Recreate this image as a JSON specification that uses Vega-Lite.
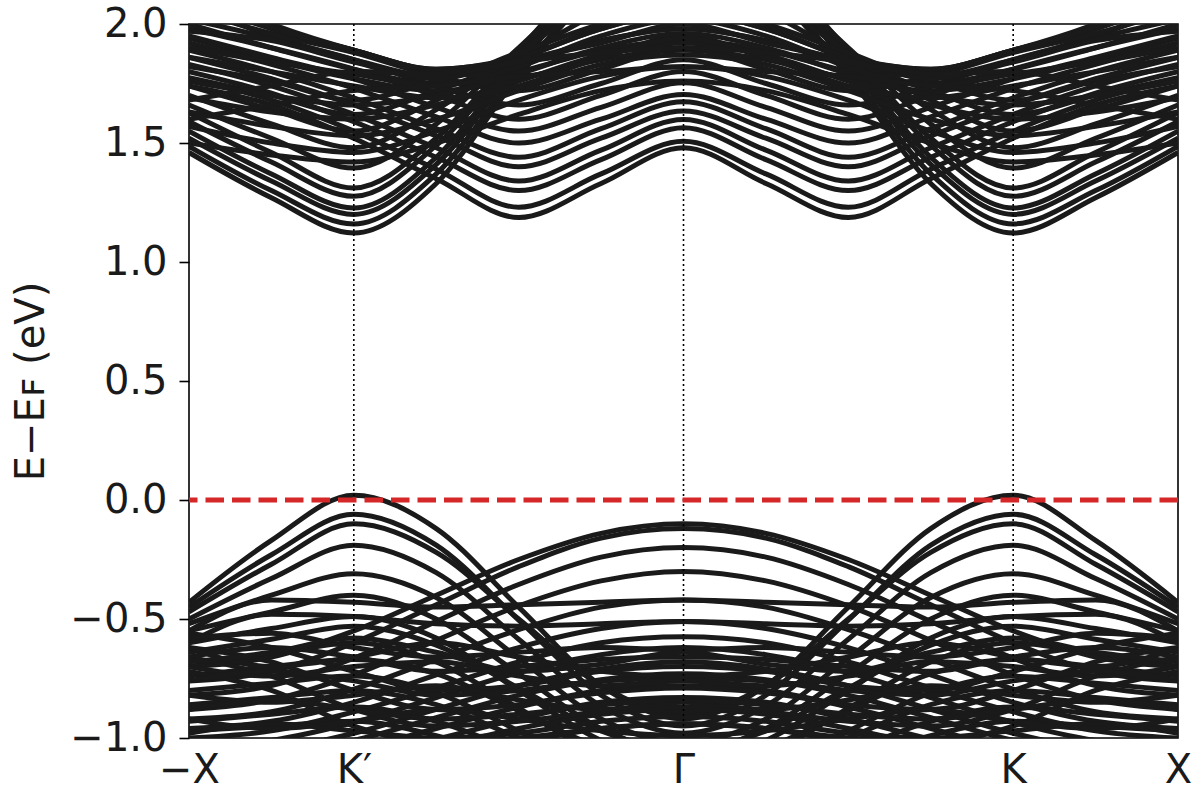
{
"$schema": "https://vega.github.io/schema/vega-lite/v6.json",
"autosize": {"type": "none"},
"padding": {"left": 189, "top": 24, "right": 22, "bottom": 62},
"width": 989,
"height": 714,
"background": "white",
"config": {"view": {"stroke": "#000000", "strokeWidth": 1.6}, "font": "DejaVu Sans"},
"datasets": {
"bands": [
{"b":1,"x":-1,"e":1.46},{"b":1,"x":-0.8333,"e":1.27},{"b":1,"x":-0.6667,"e":1.122},{"b":1,"x":-0.5,"e":1.33},{"b":1,"x":-0.3333,"e":1.78},{"b":1,"x":-0.1667,"e":2.15},{"b":1,"x":0,"e":2.3},{"b":1,"x":0.1667,"e":2.15},{"b":1,"x":0.3333,"e":1.78},{"b":1,"x":0.5,"e":1.33},{"b":1,"x":0.6667,"e":1.122},{"b":1,"x":0.8333,"e":1.27},{"b":1,"x":1,"e":1.46},
{"b":2,"x":-1,"e":1.486},{"b":2,"x":-0.8333,"e":1.3},{"b":2,"x":-0.6667,"e":1.16},{"b":2,"x":-0.5,"e":1.37},{"b":2,"x":-0.3333,"e":1.8},{"b":2,"x":-0.1667,"e":2.15},{"b":2,"x":0,"e":2.3},{"b":2,"x":0.1667,"e":2.15},{"b":2,"x":0.3333,"e":1.8},{"b":2,"x":0.5,"e":1.37},{"b":2,"x":0.6667,"e":1.16},{"b":2,"x":0.8333,"e":1.3},{"b":2,"x":1,"e":1.486},
{"b":3,"x":-1,"e":1.52},{"b":3,"x":-0.8333,"e":1.34},{"b":3,"x":-0.6667,"e":1.2},{"b":3,"x":-0.5,"e":1.41},{"b":3,"x":-0.3333,"e":1.83},{"b":3,"x":-0.1667,"e":2.2},{"b":3,"x":0,"e":2.35},{"b":3,"x":0.1667,"e":2.2},{"b":3,"x":0.3333,"e":1.83},{"b":3,"x":0.5,"e":1.41},{"b":3,"x":0.6667,"e":1.2},{"b":3,"x":0.8333,"e":1.34},{"b":3,"x":1,"e":1.52},
{"b":4,"x":-1,"e":1.55},{"b":4,"x":-0.8333,"e":1.37},{"b":4,"x":-0.6667,"e":1.227},{"b":4,"x":-0.5,"e":1.44},{"b":4,"x":-0.3333,"e":1.85},{"b":4,"x":-0.1667,"e":2.2},{"b":4,"x":0,"e":2.35},{"b":4,"x":0.1667,"e":2.2},{"b":4,"x":0.3333,"e":1.85},{"b":4,"x":0.5,"e":1.44},{"b":4,"x":0.6667,"e":1.227},{"b":4,"x":0.8333,"e":1.37},{"b":4,"x":1,"e":1.55},
{"b":5,"x":-1,"e":1.59},{"b":5,"x":-0.8333,"e":1.42},{"b":5,"x":-0.6667,"e":1.276},{"b":5,"x":-0.5,"e":1.49},{"b":5,"x":-0.3333,"e":1.87},{"b":5,"x":-0.1667,"e":2.25},{"b":5,"x":0,"e":2.4},{"b":5,"x":0.1667,"e":2.25},{"b":5,"x":0.3333,"e":1.87},{"b":5,"x":0.5,"e":1.49},{"b":5,"x":0.6667,"e":1.276},{"b":5,"x":0.8333,"e":1.42},{"b":5,"x":1,"e":1.59},
{"b":6,"x":-1,"e":1.627},{"b":6,"x":-0.8333,"e":1.46},{"b":6,"x":-0.6667,"e":1.311},{"b":6,"x":-0.5,"e":1.52},{"b":6,"x":-0.3333,"e":1.89},{"b":6,"x":-0.1667,"e":2.25},{"b":6,"x":0,"e":2.4},{"b":6,"x":0.1667,"e":2.25},{"b":6,"x":0.3333,"e":1.89},{"b":6,"x":0.5,"e":1.52},{"b":6,"x":0.6667,"e":1.311},{"b":6,"x":0.8333,"e":1.46},{"b":6,"x":1,"e":1.627},
{"b":7,"x":-1,"e":1.66},{"b":7,"x":-0.8333,"e":1.52},{"b":7,"x":-0.6667,"e":1.395},{"b":7,"x":-0.5,"e":1.58},{"b":7,"x":-0.3333,"e":1.9},{"b":7,"x":-0.1667,"e":2.2},{"b":7,"x":0,"e":2.3},{"b":7,"x":0.1667,"e":2.2},{"b":7,"x":0.3333,"e":1.9},{"b":7,"x":0.5,"e":1.58},{"b":7,"x":0.6667,"e":1.395},{"b":7,"x":0.8333,"e":1.52},{"b":7,"x":1,"e":1.66},
{"b":8,"x":-1,"e":1.7},{"b":8,"x":-0.8333,"e":1.58},{"b":8,"x":-0.6667,"e":1.48},{"b":8,"x":-0.5,"e":1.64},{"b":8,"x":-0.3333,"e":1.88},{"b":8,"x":-0.1667,"e":2.1},{"b":8,"x":0,"e":2.2},{"b":8,"x":0.1667,"e":2.1},{"b":8,"x":0.3333,"e":1.88},{"b":8,"x":0.5,"e":1.64},{"b":8,"x":0.6667,"e":1.48},{"b":8,"x":0.8333,"e":1.58},{"b":8,"x":1,"e":1.7},
{"b":9,"x":-1,"e":1.74},{"b":9,"x":-0.8333,"e":1.64},{"b":9,"x":-0.6667,"e":1.55},{"b":9,"x":-0.5,"e":1.68},{"b":9,"x":-0.3333,"e":1.86},{"b":9,"x":-0.1667,"e":2.05},{"b":9,"x":0,"e":2.15},{"b":9,"x":0.1667,"e":2.05},{"b":9,"x":0.3333,"e":1.86},{"b":9,"x":0.5,"e":1.68},{"b":9,"x":0.6667,"e":1.55},{"b":9,"x":0.8333,"e":1.64},{"b":9,"x":1,"e":1.74},
{"b":10,"x":-1,"e":1.774},{"b":10,"x":-0.8333,"e":1.7},{"b":10,"x":-0.6667,"e":1.62},{"b":10,"x":-0.5,"e":1.72},{"b":10,"x":-0.3333,"e":1.85},{"b":10,"x":-0.1667,"e":1.98},{"b":10,"x":0,"e":2.05},{"b":10,"x":0.1667,"e":1.98},{"b":10,"x":0.3333,"e":1.85},{"b":10,"x":0.5,"e":1.72},{"b":10,"x":0.6667,"e":1.62},{"b":10,"x":0.8333,"e":1.7},{"b":10,"x":1,"e":1.774},
{"b":11,"x":-1,"e":1.82},{"b":11,"x":-0.8333,"e":1.76},{"b":11,"x":-0.6667,"e":1.68},{"b":11,"x":-0.5,"e":1.76},{"b":11,"x":-0.3333,"e":1.84},{"b":11,"x":-0.1667,"e":1.93},{"b":11,"x":0,"e":1.98},{"b":11,"x":0.1667,"e":1.93},{"b":11,"x":0.3333,"e":1.84},{"b":11,"x":0.5,"e":1.76},{"b":11,"x":0.6667,"e":1.68},{"b":11,"x":0.8333,"e":1.76},{"b":11,"x":1,"e":1.82},
{"b":12,"x":-1,"e":2.15},{"b":12,"x":-0.8333,"e":2},{"b":12,"x":-0.6667,"e":1.89},{"b":12,"x":-0.5,"e":1.81},{"b":12,"x":-0.3333,"e":1.86},{"b":12,"x":-0.1667,"e":1.98},{"b":12,"x":0,"e":2.05},{"b":12,"x":0.1667,"e":1.98},{"b":12,"x":0.3333,"e":1.86},{"b":12,"x":0.5,"e":1.81},{"b":12,"x":0.6667,"e":1.89},{"b":12,"x":0.8333,"e":2},{"b":12,"x":1,"e":2.15},
{"b":13,"x":-1,"e":2.08},{"b":13,"x":-0.8333,"e":1.95},{"b":13,"x":-0.6667,"e":1.85},{"b":13,"x":-0.5,"e":1.78},{"b":13,"x":-0.3333,"e":1.83},{"b":13,"x":-0.1667,"e":1.93},{"b":13,"x":0,"e":1.98},{"b":13,"x":0.1667,"e":1.93},{"b":13,"x":0.3333,"e":1.83},{"b":13,"x":0.5,"e":1.78},{"b":13,"x":0.6667,"e":1.85},{"b":13,"x":0.8333,"e":1.95},{"b":13,"x":1,"e":2.08},
{"b":14,"x":-1,"e":2},{"b":14,"x":-0.8333,"e":1.9},{"b":14,"x":-0.6667,"e":1.81},{"b":14,"x":-0.5,"e":1.75},{"b":14,"x":-0.3333,"e":1.8},{"b":14,"x":-0.1667,"e":1.89},{"b":14,"x":0,"e":1.93},{"b":14,"x":0.1667,"e":1.89},{"b":14,"x":0.3333,"e":1.8},{"b":14,"x":0.5,"e":1.75},{"b":14,"x":0.6667,"e":1.81},{"b":14,"x":0.8333,"e":1.9},{"b":14,"x":1,"e":2},
{"b":15,"x":-1,"e":1.94},{"b":15,"x":-0.8333,"e":1.85},{"b":15,"x":-0.6667,"e":1.77},{"b":15,"x":-0.5,"e":1.72},{"b":15,"x":-0.3333,"e":1.77},{"b":15,"x":-0.1667,"e":1.85},{"b":15,"x":0,"e":1.89},{"b":15,"x":0.1667,"e":1.85},{"b":15,"x":0.3333,"e":1.77},{"b":15,"x":0.5,"e":1.72},{"b":15,"x":0.6667,"e":1.77},{"b":15,"x":0.8333,"e":1.85},{"b":15,"x":1,"e":1.94},
{"b":16,"x":-1,"e":1.74},{"b":16,"x":-0.8333,"e":1.66},{"b":16,"x":-0.6667,"e":1.52},{"b":16,"x":-0.5,"e":1.35},{"b":16,"x":-0.3333,"e":1.187},{"b":16,"x":-0.1667,"e":1.33},{"b":16,"x":0,"e":1.48},{"b":16,"x":0.1667,"e":1.33},{"b":16,"x":0.3333,"e":1.187},{"b":16,"x":0.5,"e":1.35},{"b":16,"x":0.6667,"e":1.52},{"b":16,"x":0.8333,"e":1.66},{"b":16,"x":1,"e":1.74},
{"b":17,"x":-1,"e":1.77},{"b":17,"x":-0.8333,"e":1.68},{"b":17,"x":-0.6667,"e":1.55},{"b":17,"x":-0.5,"e":1.39},{"b":17,"x":-0.3333,"e":1.23},{"b":17,"x":-0.1667,"e":1.37},{"b":17,"x":0,"e":1.507},{"b":17,"x":0.1667,"e":1.37},{"b":17,"x":0.3333,"e":1.23},{"b":17,"x":0.5,"e":1.39},{"b":17,"x":0.6667,"e":1.55},{"b":17,"x":0.8333,"e":1.68},{"b":17,"x":1,"e":1.77},
{"b":18,"x":-1,"e":1.8},{"b":18,"x":-0.8333,"e":1.71},{"b":18,"x":-0.6667,"e":1.59},{"b":18,"x":-0.5,"e":1.44},{"b":18,"x":-0.3333,"e":1.3},{"b":18,"x":-0.1667,"e":1.43},{"b":18,"x":0,"e":1.564},{"b":18,"x":0.1667,"e":1.43},{"b":18,"x":0.3333,"e":1.3},{"b":18,"x":0.5,"e":1.44},{"b":18,"x":0.6667,"e":1.59},{"b":18,"x":0.8333,"e":1.71},{"b":18,"x":1,"e":1.8},
{"b":19,"x":-1,"e":1.83},{"b":19,"x":-0.8333,"e":1.74},{"b":19,"x":-0.6667,"e":1.62},{"b":19,"x":-0.5,"e":1.48},{"b":19,"x":-0.3333,"e":1.34},{"b":19,"x":-0.1667,"e":1.47},{"b":19,"x":0,"e":1.599},{"b":19,"x":0.1667,"e":1.47},{"b":19,"x":0.3333,"e":1.34},{"b":19,"x":0.5,"e":1.48},{"b":19,"x":0.6667,"e":1.62},{"b":19,"x":0.8333,"e":1.74},{"b":19,"x":1,"e":1.83},
{"b":20,"x":-1,"e":1.86},{"b":20,"x":-0.8333,"e":1.77},{"b":20,"x":-0.6667,"e":1.66},{"b":20,"x":-0.5,"e":1.53},{"b":20,"x":-0.3333,"e":1.4},{"b":20,"x":-0.1667,"e":1.52},{"b":20,"x":0,"e":1.634},{"b":20,"x":0.1667,"e":1.52},{"b":20,"x":0.3333,"e":1.4},{"b":20,"x":0.5,"e":1.53},{"b":20,"x":0.6667,"e":1.66},{"b":20,"x":0.8333,"e":1.77},{"b":20,"x":1,"e":1.86},
{"b":21,"x":-1,"e":1.89},{"b":21,"x":-0.8333,"e":1.8},{"b":21,"x":-0.6667,"e":1.69},{"b":21,"x":-0.5,"e":1.56},{"b":21,"x":-0.3333,"e":1.44},{"b":21,"x":-0.1667,"e":1.56},{"b":21,"x":0,"e":1.673},{"b":21,"x":0.1667,"e":1.56},{"b":21,"x":0.3333,"e":1.44},{"b":21,"x":0.5,"e":1.56},{"b":21,"x":0.6667,"e":1.69},{"b":21,"x":0.8333,"e":1.8},{"b":21,"x":1,"e":1.89},
{"b":22,"x":-1,"e":1.92},{"b":22,"x":-0.8333,"e":1.83},{"b":22,"x":-0.6667,"e":1.73},{"b":22,"x":-0.5,"e":1.61},{"b":22,"x":-0.3333,"e":1.5},{"b":22,"x":-0.1667,"e":1.6},{"b":22,"x":0,"e":1.704},{"b":22,"x":0.1667,"e":1.6},{"b":22,"x":0.3333,"e":1.5},{"b":22,"x":0.5,"e":1.61},{"b":22,"x":0.6667,"e":1.73},{"b":22,"x":0.8333,"e":1.83},{"b":22,"x":1,"e":1.92},
{"b":23,"x":-1,"e":1.95},{"b":23,"x":-0.8333,"e":1.86},{"b":23,"x":-0.6667,"e":1.77},{"b":23,"x":-0.5,"e":1.65},{"b":23,"x":-0.3333,"e":1.55},{"b":23,"x":-0.1667,"e":1.65},{"b":23,"x":0,"e":1.753},{"b":23,"x":0.1667,"e":1.65},{"b":23,"x":0.3333,"e":1.55},{"b":23,"x":0.5,"e":1.65},{"b":23,"x":0.6667,"e":1.77},{"b":23,"x":0.8333,"e":1.86},{"b":23,"x":1,"e":1.95},
{"b":24,"x":-1,"e":1.98},{"b":24,"x":-0.8333,"e":1.9},{"b":24,"x":-0.6667,"e":1.81},{"b":24,"x":-0.5,"e":1.7},{"b":24,"x":-0.3333,"e":1.6},{"b":24,"x":-0.1667,"e":1.7},{"b":24,"x":0,"e":1.8},{"b":24,"x":0.1667,"e":1.7},{"b":24,"x":0.3333,"e":1.6},{"b":24,"x":0.5,"e":1.7},{"b":24,"x":0.6667,"e":1.81},{"b":24,"x":0.8333,"e":1.9},{"b":24,"x":1,"e":1.98},
{"b":25,"x":-1,"e":2.02},{"b":25,"x":-0.8333,"e":1.94},{"b":25,"x":-0.6667,"e":1.85},{"b":25,"x":-0.5,"e":1.74},{"b":25,"x":-0.3333,"e":1.66},{"b":25,"x":-0.1667,"e":1.75},{"b":25,"x":0,"e":1.85},{"b":25,"x":0.1667,"e":1.75},{"b":25,"x":0.3333,"e":1.66},{"b":25,"x":0.5,"e":1.74},{"b":25,"x":0.6667,"e":1.85},{"b":25,"x":0.8333,"e":1.94},{"b":25,"x":1,"e":2.02},
{"b":26,"x":-1,"e":2.06},{"b":26,"x":-0.8333,"e":1.96},{"b":26,"x":-0.6667,"e":1.88},{"b":26,"x":-0.5,"e":1.78},{"b":26,"x":-0.3333,"e":1.72},{"b":26,"x":-0.1667,"e":1.81},{"b":26,"x":0,"e":1.9},{"b":26,"x":0.1667,"e":1.81},{"b":26,"x":0.3333,"e":1.72},{"b":26,"x":0.5,"e":1.78},{"b":26,"x":0.6667,"e":1.88},{"b":26,"x":0.8333,"e":1.96},{"b":26,"x":1,"e":2.06},
{"b":27,"x":-1,"e":2.1},{"b":27,"x":-0.8333,"e":1.98},{"b":27,"x":-0.6667,"e":1.89},{"b":27,"x":-0.5,"e":1.8},{"b":27,"x":-0.3333,"e":1.78},{"b":27,"x":-0.1667,"e":1.86},{"b":27,"x":0,"e":1.95},{"b":27,"x":0.1667,"e":1.86},{"b":27,"x":0.3333,"e":1.78},{"b":27,"x":0.5,"e":1.8},{"b":27,"x":0.6667,"e":1.89},{"b":27,"x":0.8333,"e":1.98},{"b":27,"x":1,"e":2.1},
{"b":28,"x":-1,"e":2.15},{"b":28,"x":-0.8333,"e":1.99},{"b":28,"x":-0.6667,"e":1.89},{"b":28,"x":-0.5,"e":1.81},{"b":28,"x":-0.3333,"e":1.85},{"b":28,"x":-0.1667,"e":1.92},{"b":28,"x":0,"e":2},{"b":28,"x":0.1667,"e":1.92},{"b":28,"x":0.3333,"e":1.85},{"b":28,"x":0.5,"e":1.81},{"b":28,"x":0.6667,"e":1.89},{"b":28,"x":0.8333,"e":1.99},{"b":28,"x":1,"e":2.15},
{"b":29,"x":-1,"e":-0.43},{"b":29,"x":-0.8333,"e":-0.17},{"b":29,"x":-0.6667,"e":0.02},{"b":29,"x":-0.5,"e":-0.12},{"b":29,"x":-0.3333,"e":-0.45},{"b":29,"x":-0.1667,"e":-0.78},{"b":29,"x":0,"e":-0.92},{"b":29,"x":0.1667,"e":-0.78},{"b":29,"x":0.3333,"e":-0.45},{"b":29,"x":0.5,"e":-0.12},{"b":29,"x":0.6667,"e":0.02},{"b":29,"x":0.8333,"e":-0.17},{"b":29,"x":1,"e":-0.43},
{"b":30,"x":-1,"e":-0.45},{"b":30,"x":-0.8333,"e":-0.23},{"b":30,"x":-0.6667,"e":-0.06},{"b":30,"x":-0.5,"e":-0.19},{"b":30,"x":-0.3333,"e":-0.505},{"b":30,"x":-0.1667,"e":-0.82},{"b":30,"x":0,"e":-0.95},{"b":30,"x":0.1667,"e":-0.82},{"b":30,"x":0.3333,"e":-0.505},{"b":30,"x":0.5,"e":-0.19},{"b":30,"x":0.6667,"e":-0.06},{"b":30,"x":0.8333,"e":-0.23},{"b":30,"x":1,"e":-0.45},
{"b":31,"x":-1,"e":-0.47},{"b":31,"x":-0.8333,"e":-0.27},{"b":31,"x":-0.6667,"e":-0.1},{"b":31,"x":-0.5,"e":-0.22},{"b":31,"x":-0.3333,"e":-0.5},{"b":31,"x":-0.1667,"e":-0.78},{"b":31,"x":0,"e":-0.9},{"b":31,"x":0.1667,"e":-0.78},{"b":31,"x":0.3333,"e":-0.5},{"b":31,"x":0.5,"e":-0.22},{"b":31,"x":0.6667,"e":-0.1},{"b":31,"x":0.8333,"e":-0.27},{"b":31,"x":1,"e":-0.47},
{"b":32,"x":-1,"e":-0.5},{"b":32,"x":-0.8333,"e":-0.33},{"b":32,"x":-0.6667,"e":-0.19},{"b":32,"x":-0.5,"e":-0.305},{"b":32,"x":-0.3333,"e":-0.585},{"b":32,"x":-0.1667,"e":-0.865},{"b":32,"x":0,"e":-0.98},{"b":32,"x":0.1667,"e":-0.865},{"b":32,"x":0.3333,"e":-0.585},{"b":32,"x":0.5,"e":-0.305},{"b":32,"x":0.6667,"e":-0.19},{"b":32,"x":0.8333,"e":-0.33},{"b":32,"x":1,"e":-0.5},
{"b":33,"x":-1,"e":-0.52},{"b":33,"x":-0.8333,"e":-0.4},{"b":33,"x":-0.6667,"e":-0.31},{"b":33,"x":-0.5,"e":-0.41},{"b":33,"x":-0.3333,"e":-0.665},{"b":33,"x":-0.1667,"e":-0.92},{"b":33,"x":0,"e":-1.02},{"b":33,"x":0.1667,"e":-0.92},{"b":33,"x":0.3333,"e":-0.665},{"b":33,"x":0.5,"e":-0.41},{"b":33,"x":0.6667,"e":-0.31},{"b":33,"x":0.8333,"e":-0.4},{"b":33,"x":1,"e":-0.52},
{"b":34,"x":-1,"e":-0.55},{"b":34,"x":-0.8333,"e":-0.47},{"b":34,"x":-0.6667,"e":-0.4},{"b":34,"x":-0.5,"e":-0.5},{"b":34,"x":-0.3333,"e":-0.73},{"b":34,"x":-0.1667,"e":-0.96},{"b":34,"x":0,"e":-1.06},{"b":34,"x":0.1667,"e":-0.96},{"b":34,"x":0.3333,"e":-0.73},{"b":34,"x":0.5,"e":-0.5},{"b":34,"x":0.6667,"e":-0.4},{"b":34,"x":0.8333,"e":-0.47},{"b":34,"x":1,"e":-0.55},
{"b":35,"x":-1,"e":-0.6},{"b":35,"x":-0.8333,"e":-0.54},{"b":35,"x":-0.6667,"e":-0.49},{"b":35,"x":-0.5,"e":-0.58},{"b":35,"x":-0.3333,"e":-0.8},{"b":35,"x":-0.1667,"e":-1.01},{"b":35,"x":0,"e":-1.1},{"b":35,"x":0.1667,"e":-1.01},{"b":35,"x":0.3333,"e":-0.8},{"b":35,"x":0.5,"e":-0.58},{"b":35,"x":0.6667,"e":-0.49},{"b":35,"x":0.8333,"e":-0.54},{"b":35,"x":1,"e":-0.6},
{"b":36,"x":-1,"e":-0.64},{"b":36,"x":-0.8333,"e":-0.585},{"b":36,"x":-0.6667,"e":-0.53},{"b":36,"x":-0.5,"e":-0.61},{"b":36,"x":-0.3333,"e":-0.79},{"b":36,"x":-0.1667,"e":-0.97},{"b":36,"x":0,"e":-1.05},{"b":36,"x":0.1667,"e":-0.97},{"b":36,"x":0.3333,"e":-0.79},{"b":36,"x":0.5,"e":-0.61},{"b":36,"x":0.6667,"e":-0.53},{"b":36,"x":0.8333,"e":-0.585},{"b":36,"x":1,"e":-0.64},
{"b":37,"x":-1,"e":-0.7},{"b":37,"x":-0.8333,"e":-0.65},{"b":37,"x":-0.6667,"e":-0.6},{"b":37,"x":-0.5,"e":-0.68},{"b":37,"x":-0.3333,"e":-0.875},{"b":37,"x":-0.1667,"e":-1.07},{"b":37,"x":0,"e":-1.15},{"b":37,"x":0.1667,"e":-1.07},{"b":37,"x":0.3333,"e":-0.875},{"b":37,"x":0.5,"e":-0.68},{"b":37,"x":0.6667,"e":-0.6},{"b":37,"x":0.8333,"e":-0.65},{"b":37,"x":1,"e":-0.7},
{"b":38,"x":-1,"e":-0.74},{"b":38,"x":-0.8333,"e":-0.7},{"b":38,"x":-0.6667,"e":-0.67},{"b":38,"x":-0.5,"e":-0.73},{"b":38,"x":-0.3333,"e":-0.885},{"b":38,"x":-0.1667,"e":-1.04},{"b":38,"x":0,"e":-1.1},{"b":38,"x":0.1667,"e":-1.04},{"b":38,"x":0.3333,"e":-0.885},{"b":38,"x":0.5,"e":-0.73},{"b":38,"x":0.6667,"e":-0.67},{"b":38,"x":0.8333,"e":-0.7},{"b":38,"x":1,"e":-0.74},
{"b":39,"x":-1,"e":-0.8},{"b":39,"x":-0.8333,"e":-0.77},{"b":39,"x":-0.6667,"e":-0.74},{"b":39,"x":-0.5,"e":-0.81},{"b":39,"x":-0.3333,"e":-0.97},{"b":39,"x":-0.1667,"e":-1.13},{"b":39,"x":0,"e":-1.2},{"b":39,"x":0.1667,"e":-1.13},{"b":39,"x":0.3333,"e":-0.97},{"b":39,"x":0.5,"e":-0.81},{"b":39,"x":0.6667,"e":-0.74},{"b":39,"x":0.8333,"e":-0.77},{"b":39,"x":1,"e":-0.8},
{"b":40,"x":-1,"e":-0.86},{"b":40,"x":-0.8333,"e":-0.83},{"b":40,"x":-0.6667,"e":-0.8},{"b":40,"x":-0.5,"e":-0.86},{"b":40,"x":-0.3333,"e":-1},{"b":40,"x":-0.1667,"e":-1.14},{"b":40,"x":0,"e":-1.2},{"b":40,"x":0.1667,"e":-1.14},{"b":40,"x":0.3333,"e":-1},{"b":40,"x":0.5,"e":-0.86},{"b":40,"x":0.6667,"e":-0.8},{"b":40,"x":0.8333,"e":-0.83},{"b":40,"x":1,"e":-0.86},
{"b":41,"x":-1,"e":-0.93},{"b":41,"x":-0.8333,"e":-0.9},{"b":41,"x":-0.6667,"e":-0.87},{"b":41,"x":-0.5,"e":-0.93},{"b":41,"x":-0.3333,"e":-1.06},{"b":41,"x":-0.1667,"e":-1.2},{"b":41,"x":0,"e":-1.25},{"b":41,"x":0.1667,"e":-1.2},{"b":41,"x":0.3333,"e":-1.06},{"b":41,"x":0.5,"e":-0.93},{"b":41,"x":0.6667,"e":-0.87},{"b":41,"x":0.8333,"e":-0.9},{"b":41,"x":1,"e":-0.93},
{"b":42,"x":-1,"e":-0.97},{"b":42,"x":-0.8333,"e":-0.95},{"b":42,"x":-0.6667,"e":-0.93},{"b":42,"x":-0.5,"e":-0.99},{"b":42,"x":-0.3333,"e":-1.1},{"b":42,"x":-0.1667,"e":-1.25},{"b":42,"x":0,"e":-1.3},{"b":42,"x":0.1667,"e":-1.25},{"b":42,"x":0.3333,"e":-1.1},{"b":42,"x":0.5,"e":-0.99},{"b":42,"x":0.6667,"e":-0.93},{"b":42,"x":0.8333,"e":-0.95},{"b":42,"x":1,"e":-0.97},
{"b":43,"x":-1,"e":-0.7},{"b":43,"x":-0.8333,"e":-0.66},{"b":43,"x":-0.6667,"e":-0.55},{"b":43,"x":-0.5,"e":-0.4},{"b":43,"x":-0.3333,"e":-0.25},{"b":43,"x":-0.1667,"e":-0.14},{"b":43,"x":0,"e":-0.1},{"b":43,"x":0.1667,"e":-0.14},{"b":43,"x":0.3333,"e":-0.25},{"b":43,"x":0.5,"e":-0.4},{"b":43,"x":0.6667,"e":-0.55},{"b":43,"x":0.8333,"e":-0.66},{"b":43,"x":1,"e":-0.7},
{"b":44,"x":-1,"e":-0.76},{"b":44,"x":-0.8333,"e":-0.72},{"b":44,"x":-0.6667,"e":-0.6},{"b":44,"x":-0.5,"e":-0.44},{"b":44,"x":-0.3333,"e":-0.28},{"b":44,"x":-0.1667,"e":-0.16},{"b":44,"x":0,"e":-0.12},{"b":44,"x":0.1667,"e":-0.16},{"b":44,"x":0.3333,"e":-0.28},{"b":44,"x":0.5,"e":-0.44},{"b":44,"x":0.6667,"e":-0.6},{"b":44,"x":0.8333,"e":-0.72},{"b":44,"x":1,"e":-0.76},
{"b":45,"x":-1,"e":-0.82},{"b":45,"x":-0.8333,"e":-0.78},{"b":45,"x":-0.6667,"e":-0.665},{"b":45,"x":-0.5,"e":-0.51},{"b":45,"x":-0.3333,"e":-0.355},{"b":45,"x":-0.1667,"e":-0.24},{"b":45,"x":0,"e":-0.2},{"b":45,"x":0.1667,"e":-0.24},{"b":45,"x":0.3333,"e":-0.355},{"b":45,"x":0.5,"e":-0.51},{"b":45,"x":0.6667,"e":-0.665},{"b":45,"x":0.8333,"e":-0.78},{"b":45,"x":1,"e":-0.82},
{"b":46,"x":-1,"e":-0.88},{"b":46,"x":-0.8333,"e":-0.84},{"b":46,"x":-0.6667,"e":-0.735},{"b":46,"x":-0.5,"e":-0.59},{"b":46,"x":-0.3333,"e":-0.445},{"b":46,"x":-0.1667,"e":-0.34},{"b":46,"x":0,"e":-0.3},{"b":46,"x":0.1667,"e":-0.34},{"b":46,"x":0.3333,"e":-0.445},{"b":46,"x":0.5,"e":-0.59},{"b":46,"x":0.6667,"e":-0.735},{"b":46,"x":0.8333,"e":-0.84},{"b":46,"x":1,"e":-0.88},
{"b":47,"x":-1,"e":-0.92},{"b":47,"x":-0.8333,"e":-0.89},{"b":47,"x":-0.6667,"e":-0.795},{"b":47,"x":-0.5,"e":-0.67},{"b":47,"x":-0.3333,"e":-0.545},{"b":47,"x":-0.1667,"e":-0.45},{"b":47,"x":0,"e":-0.42},{"b":47,"x":0.1667,"e":-0.45},{"b":47,"x":0.3333,"e":-0.545},{"b":47,"x":0.5,"e":-0.67},{"b":47,"x":0.6667,"e":-0.795},{"b":47,"x":0.8333,"e":-0.89},{"b":47,"x":1,"e":-0.92},
{"b":48,"x":-1,"e":-0.96},{"b":48,"x":-0.8333,"e":-0.93},{"b":48,"x":-0.6667,"e":-0.85},{"b":48,"x":-0.5,"e":-0.735},{"b":48,"x":-0.3333,"e":-0.62},{"b":48,"x":-0.1667,"e":-0.54},{"b":48,"x":0,"e":-0.51},{"b":48,"x":0.1667,"e":-0.54},{"b":48,"x":0.3333,"e":-0.62},{"b":48,"x":0.5,"e":-0.735},{"b":48,"x":0.6667,"e":-0.85},{"b":48,"x":0.8333,"e":-0.93},{"b":48,"x":1,"e":-0.96},
{"b":49,"x":-1,"e":-1},{"b":49,"x":-0.8333,"e":-0.97},{"b":49,"x":-0.6667,"e":-0.89},{"b":49,"x":-0.5,"e":-0.79},{"b":49,"x":-0.3333,"e":-0.68},{"b":49,"x":-0.1667,"e":-0.6},{"b":49,"x":0,"e":-0.575},{"b":49,"x":0.1667,"e":-0.6},{"b":49,"x":0.3333,"e":-0.68},{"b":49,"x":0.5,"e":-0.79},{"b":49,"x":0.6667,"e":-0.89},{"b":49,"x":0.8333,"e":-0.97},{"b":49,"x":1,"e":-1},
{"b":50,"x":-1,"e":-1.04},{"b":50,"x":-0.8333,"e":-1.01},{"b":50,"x":-0.6667,"e":-0.935},{"b":50,"x":-0.5,"e":-0.83},{"b":50,"x":-0.3333,"e":-0.725},{"b":50,"x":-0.1667,"e":-0.65},{"b":50,"x":0,"e":-0.62},{"b":50,"x":0.1667,"e":-0.65},{"b":50,"x":0.3333,"e":-0.725},{"b":50,"x":0.5,"e":-0.83},{"b":50,"x":0.6667,"e":-0.935},{"b":50,"x":0.8333,"e":-1.01},{"b":50,"x":1,"e":-1.04},
{"b":51,"x":-1,"e":-1.08},{"b":51,"x":-0.8333,"e":-1.05},{"b":51,"x":-0.6667,"e":-0.98},{"b":51,"x":-0.5,"e":-0.88},{"b":51,"x":-0.3333,"e":-0.78},{"b":51,"x":-0.1667,"e":-0.71},{"b":51,"x":0,"e":-0.68},{"b":51,"x":0.1667,"e":-0.71},{"b":51,"x":0.3333,"e":-0.78},{"b":51,"x":0.5,"e":-0.88},{"b":51,"x":0.6667,"e":-0.98},{"b":51,"x":0.8333,"e":-1.05},{"b":51,"x":1,"e":-1.08},
{"b":52,"x":-1,"e":-1.1},{"b":52,"x":-0.8333,"e":-1.07},{"b":52,"x":-0.6667,"e":-1.01},{"b":52,"x":-0.5,"e":-0.915},{"b":52,"x":-0.3333,"e":-0.82},{"b":52,"x":-0.1667,"e":-0.755},{"b":52,"x":0,"e":-0.73},{"b":52,"x":0.1667,"e":-0.755},{"b":52,"x":0.3333,"e":-0.82},{"b":52,"x":0.5,"e":-0.915},{"b":52,"x":0.6667,"e":-1.01},{"b":52,"x":0.8333,"e":-1.07},{"b":52,"x":1,"e":-1.1},
{"b":53,"x":-1,"e":-1.14},{"b":53,"x":-0.8333,"e":-1.12},{"b":53,"x":-0.6667,"e":-1.05},{"b":53,"x":-0.5,"e":-0.96},{"b":53,"x":-0.3333,"e":-0.87},{"b":53,"x":-0.1667,"e":-0.8},{"b":53,"x":0,"e":-0.78},{"b":53,"x":0.1667,"e":-0.8},{"b":53,"x":0.3333,"e":-0.87},{"b":53,"x":0.5,"e":-0.96},{"b":53,"x":0.6667,"e":-1.05},{"b":53,"x":0.8333,"e":-1.12},{"b":53,"x":1,"e":-1.14},
{"b":54,"x":-1,"e":-1.18},{"b":54,"x":-0.8333,"e":-1.16},{"b":54,"x":-0.6667,"e":-1.09},{"b":54,"x":-0.5,"e":-1.005},{"b":54,"x":-0.3333,"e":-0.92},{"b":54,"x":-0.1667,"e":-0.85},{"b":54,"x":0,"e":-0.83},{"b":54,"x":0.1667,"e":-0.85},{"b":54,"x":0.3333,"e":-0.92},{"b":54,"x":0.5,"e":-1.005},{"b":54,"x":0.6667,"e":-1.09},{"b":54,"x":0.8333,"e":-1.16},{"b":54,"x":1,"e":-1.18},
{"b":55,"x":-1,"e":-1.2},{"b":55,"x":-0.8333,"e":-1.18},{"b":55,"x":-0.6667,"e":-1.12},{"b":55,"x":-0.5,"e":-1.04},{"b":55,"x":-0.3333,"e":-0.96},{"b":55,"x":-0.1667,"e":-0.9},{"b":55,"x":0,"e":-0.88},{"b":55,"x":0.1667,"e":-0.9},{"b":55,"x":0.3333,"e":-0.96},{"b":55,"x":0.5,"e":-1.04},{"b":55,"x":0.6667,"e":-1.12},{"b":55,"x":0.8333,"e":-1.18},{"b":55,"x":1,"e":-1.2},
{"b":56,"x":-1,"e":-1.25},{"b":56,"x":-0.8333,"e":-1.23},{"b":56,"x":-0.6667,"e":-1.17},{"b":56,"x":-0.5,"e":-1.095},{"b":56,"x":-0.3333,"e":-1.02},{"b":56,"x":-0.1667,"e":-0.96},{"b":56,"x":0,"e":-0.94},{"b":56,"x":0.1667,"e":-0.96},{"b":56,"x":0.3333,"e":-1.02},{"b":56,"x":0.5,"e":-1.095},{"b":56,"x":0.6667,"e":-1.17},{"b":56,"x":0.8333,"e":-1.23},{"b":56,"x":1,"e":-1.25},
{"b":57,"x":-1,"e":-0.55},{"b":57,"x":-0.8333,"e":-0.42},{"b":57,"x":-0.6667,"e":-0.43},{"b":57,"x":-0.5,"e":-0.45},{"b":57,"x":-0.3333,"e":-0.44},{"b":57,"x":-0.1667,"e":-0.43},{"b":57,"x":0,"e":-0.42},{"b":57,"x":0.1667,"e":-0.43},{"b":57,"x":0.3333,"e":-0.44},{"b":57,"x":0.5,"e":-0.45},{"b":57,"x":0.6667,"e":-0.43},{"b":57,"x":0.8333,"e":-0.42},{"b":57,"x":1,"e":-0.55},
{"b":58,"x":-1,"e":-0.6},{"b":58,"x":-0.8333,"e":-0.48},{"b":58,"x":-0.6667,"e":-0.49},{"b":58,"x":-0.5,"e":-0.52},{"b":58,"x":-0.3333,"e":-0.53},{"b":58,"x":-0.1667,"e":-0.52},{"b":58,"x":0,"e":-0.51},{"b":58,"x":0.1667,"e":-0.52},{"b":58,"x":0.3333,"e":-0.53},{"b":58,"x":0.5,"e":-0.52},{"b":58,"x":0.6667,"e":-0.49},{"b":58,"x":0.8333,"e":-0.48},{"b":58,"x":1,"e":-0.6},
{"b":59,"x":-1,"e":-0.56},{"b":59,"x":-0.8333,"e":-0.62},{"b":59,"x":-0.6667,"e":-0.72},{"b":59,"x":-0.5,"e":-0.8},{"b":59,"x":-0.3333,"e":-0.78},{"b":59,"x":-0.1667,"e":-0.72},{"b":59,"x":0,"e":-0.7},{"b":59,"x":0.1667,"e":-0.72},{"b":59,"x":0.3333,"e":-0.78},{"b":59,"x":0.5,"e":-0.8},{"b":59,"x":0.6667,"e":-0.72},{"b":59,"x":0.8333,"e":-0.62},{"b":59,"x":1,"e":-0.56},
{"b":60,"x":-1,"e":-0.62},{"b":60,"x":-0.8333,"e":-0.68},{"b":60,"x":-0.6667,"e":-0.8},{"b":60,"x":-0.5,"e":-0.88},{"b":60,"x":-0.3333,"e":-0.86},{"b":60,"x":-0.1667,"e":-0.81},{"b":60,"x":0,"e":-0.79},{"b":60,"x":0.1667,"e":-0.81},{"b":60,"x":0.3333,"e":-0.86},{"b":60,"x":0.5,"e":-0.88},{"b":60,"x":0.6667,"e":-0.8},{"b":60,"x":0.8333,"e":-0.68},{"b":60,"x":1,"e":-0.62},
{"b":61,"x":-1,"e":-0.66},{"b":61,"x":-0.8333,"e":-0.74},{"b":61,"x":-0.6667,"e":-0.88},{"b":61,"x":-0.5,"e":-0.95},{"b":61,"x":-0.3333,"e":-0.93},{"b":61,"x":-0.1667,"e":-0.89},{"b":61,"x":0,"e":-0.87},{"b":61,"x":0.1667,"e":-0.89},{"b":61,"x":0.3333,"e":-0.93},{"b":61,"x":0.5,"e":-0.95},{"b":61,"x":0.6667,"e":-0.88},{"b":61,"x":0.8333,"e":-0.74},{"b":61,"x":1,"e":-0.66},
{"b":62,"x":-1,"e":-0.72},{"b":62,"x":-0.8333,"e":-0.8},{"b":62,"x":-0.6667,"e":-0.95},{"b":62,"x":-0.5,"e":-1.02},{"b":62,"x":-0.3333,"e":-1},{"b":62,"x":-0.1667,"e":-0.96},{"b":62,"x":0,"e":-0.94},{"b":62,"x":0.1667,"e":-0.96},{"b":62,"x":0.3333,"e":-1},{"b":62,"x":0.5,"e":-1.02},{"b":62,"x":0.6667,"e":-0.95},{"b":62,"x":0.8333,"e":-0.8},{"b":62,"x":1,"e":-0.72},
{"b":63,"x":-1,"e":1.5},{"b":63,"x":-0.8333,"e":1.45},{"b":63,"x":-0.6667,"e":1.42},{"b":63,"x":-0.5,"e":1.5},{"b":63,"x":-0.3333,"e":1.62},{"b":63,"x":-0.1667,"e":1.72},{"b":63,"x":0,"e":1.76},{"b":63,"x":0.1667,"e":1.72},{"b":63,"x":0.3333,"e":1.62},{"b":63,"x":0.5,"e":1.5},{"b":63,"x":0.6667,"e":1.42},{"b":63,"x":0.8333,"e":1.45},{"b":63,"x":1,"e":1.5},
{"b":64,"x":-1,"e":1.57},{"b":64,"x":-0.8333,"e":1.5},{"b":64,"x":-0.6667,"e":1.46},{"b":64,"x":-0.5,"e":1.55},{"b":64,"x":-0.3333,"e":1.68},{"b":64,"x":-0.1667,"e":1.78},{"b":64,"x":0,"e":1.82},{"b":64,"x":0.1667,"e":1.78},{"b":64,"x":0.3333,"e":1.68},{"b":64,"x":0.5,"e":1.55},{"b":64,"x":0.6667,"e":1.46},{"b":64,"x":0.8333,"e":1.5},{"b":64,"x":1,"e":1.57},
{"b":65,"x":-1,"e":1.63},{"b":65,"x":-0.8333,"e":1.57},{"b":65,"x":-0.6667,"e":1.53},{"b":65,"x":-0.5,"e":1.6},{"b":65,"x":-0.3333,"e":1.72},{"b":65,"x":-0.1667,"e":1.83},{"b":65,"x":0,"e":1.87},{"b":65,"x":0.1667,"e":1.83},{"b":65,"x":0.3333,"e":1.72},{"b":65,"x":0.5,"e":1.6},{"b":65,"x":0.6667,"e":1.53},{"b":65,"x":0.8333,"e":1.57},{"b":65,"x":1,"e":1.63},
{"b":66,"x":-1,"e":1.69},{"b":66,"x":-0.8333,"e":1.63},{"b":66,"x":-0.6667,"e":1.6},{"b":66,"x":-0.5,"e":1.66},{"b":66,"x":-0.3333,"e":1.76},{"b":66,"x":-0.1667,"e":1.87},{"b":66,"x":0,"e":1.92},{"b":66,"x":0.1667,"e":1.87},{"b":66,"x":0.3333,"e":1.76},{"b":66,"x":0.5,"e":1.66},{"b":66,"x":0.6667,"e":1.6},{"b":66,"x":0.8333,"e":1.63},{"b":66,"x":1,"e":1.69},
{"b":67,"x":-1,"e":1.76},{"b":67,"x":-0.8333,"e":1.7},{"b":67,"x":-0.6667,"e":1.66},{"b":67,"x":-0.5,"e":1.7},{"b":67,"x":-0.3333,"e":1.79},{"b":67,"x":-0.1667,"e":1.9},{"b":67,"x":0,"e":1.96},{"b":67,"x":0.1667,"e":1.9},{"b":67,"x":0.3333,"e":1.79},{"b":67,"x":0.5,"e":1.7},{"b":67,"x":0.6667,"e":1.66},{"b":67,"x":0.8333,"e":1.7},{"b":67,"x":1,"e":1.76},
{"b":68,"x":-1,"e":1.86},{"b":68,"x":-0.8333,"e":1.8},{"b":68,"x":-0.6667,"e":1.74},{"b":68,"x":-0.5,"e":1.69},{"b":68,"x":-0.3333,"e":1.74},{"b":68,"x":-0.1667,"e":1.86},{"b":68,"x":0,"e":1.94},{"b":68,"x":0.1667,"e":1.86},{"b":68,"x":0.3333,"e":1.74},{"b":68,"x":0.5,"e":1.69},{"b":68,"x":0.6667,"e":1.74},{"b":68,"x":0.8333,"e":1.8},{"b":68,"x":1,"e":1.86},
{"b":69,"x":-1,"e":1.9},{"b":69,"x":-0.8333,"e":1.84},{"b":69,"x":-0.6667,"e":1.79},{"b":69,"x":-0.5,"e":1.74},{"b":69,"x":-0.3333,"e":1.82},{"b":69,"x":-0.1667,"e":1.95},{"b":69,"x":0,"e":2.02},{"b":69,"x":0.1667,"e":1.95},{"b":69,"x":0.3333,"e":1.82},{"b":69,"x":0.5,"e":1.74},{"b":69,"x":0.6667,"e":1.79},{"b":69,"x":0.8333,"e":1.84},{"b":69,"x":1,"e":1.9},
{"b":70,"x":-1,"e":1.97},{"b":70,"x":-0.8333,"e":1.93},{"b":70,"x":-0.6667,"e":1.84},{"b":70,"x":-0.5,"e":1.77},{"b":70,"x":-0.3333,"e":1.88},{"b":70,"x":-0.1667,"e":2},{"b":70,"x":0,"e":2.08},{"b":70,"x":0.1667,"e":2},{"b":70,"x":0.3333,"e":1.88},{"b":70,"x":0.5,"e":1.77},{"b":70,"x":0.6667,"e":1.84},{"b":70,"x":0.8333,"e":1.93},{"b":70,"x":1,"e":1.97},
{"b":71,"x":-1,"e":1.6},{"b":71,"x":-0.8333,"e":1.66},{"b":71,"x":-0.6667,"e":1.72},{"b":71,"x":-0.5,"e":1.74},{"b":71,"x":-0.3333,"e":1.78},{"b":71,"x":-0.1667,"e":1.8},{"b":71,"x":0,"e":1.82},{"b":71,"x":0.1667,"e":1.8},{"b":71,"x":0.3333,"e":1.78},{"b":71,"x":0.5,"e":1.74},{"b":71,"x":0.6667,"e":1.72},{"b":71,"x":0.8333,"e":1.66},{"b":71,"x":1,"e":1.6},
{"b":72,"x":-1,"e":1.68},{"b":72,"x":-0.8333,"e":1.74},{"b":72,"x":-0.6667,"e":1.8},{"b":72,"x":-0.5,"e":1.79},{"b":72,"x":-0.3333,"e":1.84},{"b":72,"x":-0.1667,"e":1.88},{"b":72,"x":0,"e":1.9},{"b":72,"x":0.1667,"e":1.88},{"b":72,"x":0.3333,"e":1.84},{"b":72,"x":0.5,"e":1.79},{"b":72,"x":0.6667,"e":1.8},{"b":72,"x":0.8333,"e":1.74},{"b":72,"x":1,"e":1.68},
{"b":73,"x":-1,"e":-0.58},{"b":73,"x":-0.8333,"e":-0.56},{"b":73,"x":-0.6667,"e":-0.62},{"b":73,"x":-0.5,"e":-0.66},{"b":73,"x":-0.3333,"e":-0.64},{"b":73,"x":-0.1667,"e":-0.62},{"b":73,"x":0,"e":-0.63},{"b":73,"x":0.1667,"e":-0.62},{"b":73,"x":0.3333,"e":-0.64},{"b":73,"x":0.5,"e":-0.66},{"b":73,"x":0.6667,"e":-0.62},{"b":73,"x":0.8333,"e":-0.56},{"b":73,"x":1,"e":-0.58},
{"b":74,"x":-1,"e":-0.66},{"b":74,"x":-0.8333,"e":-0.62},{"b":74,"x":-0.6667,"e":-0.66},{"b":74,"x":-0.5,"e":-0.72},{"b":74,"x":-0.3333,"e":-0.7},{"b":74,"x":-0.1667,"e":-0.67},{"b":74,"x":0,"e":-0.66},{"b":74,"x":0.1667,"e":-0.67},{"b":74,"x":0.3333,"e":-0.7},{"b":74,"x":0.5,"e":-0.72},{"b":74,"x":0.6667,"e":-0.66},{"b":74,"x":0.8333,"e":-0.62},{"b":74,"x":1,"e":-0.66},
{"b":75,"x":-1,"e":-0.7},{"b":75,"x":-0.8333,"e":-0.74},{"b":75,"x":-0.6667,"e":-0.7},{"b":75,"x":-0.5,"e":-0.68},{"b":75,"x":-0.3333,"e":-0.74},{"b":75,"x":-0.1667,"e":-0.78},{"b":75,"x":0,"e":-0.76},{"b":75,"x":0.1667,"e":-0.78},{"b":75,"x":0.3333,"e":-0.74},{"b":75,"x":0.5,"e":-0.68},{"b":75,"x":0.6667,"e":-0.7},{"b":75,"x":0.8333,"e":-0.74},{"b":75,"x":1,"e":-0.7},
{"b":76,"x":-1,"e":-0.76},{"b":76,"x":-0.8333,"e":-0.72},{"b":76,"x":-0.6667,"e":-0.76},{"b":76,"x":-0.5,"e":-0.82},{"b":76,"x":-0.3333,"e":-0.8},{"b":76,"x":-0.1667,"e":-0.76},{"b":76,"x":0,"e":-0.75},{"b":76,"x":0.1667,"e":-0.76},{"b":76,"x":0.3333,"e":-0.8},{"b":76,"x":0.5,"e":-0.82},{"b":76,"x":0.6667,"e":-0.76},{"b":76,"x":0.8333,"e":-0.72},{"b":76,"x":1,"e":-0.76},
{"b":77,"x":-1,"e":-0.82},{"b":77,"x":-0.8333,"e":-0.85},{"b":77,"x":-0.6667,"e":-0.82},{"b":77,"x":-0.5,"e":-0.78},{"b":77,"x":-0.3333,"e":-0.84},{"b":77,"x":-0.1667,"e":-0.88},{"b":77,"x":0,"e":-0.85},{"b":77,"x":0.1667,"e":-0.88},{"b":77,"x":0.3333,"e":-0.84},{"b":77,"x":0.5,"e":-0.78},{"b":77,"x":0.6667,"e":-0.82},{"b":77,"x":0.8333,"e":-0.85},{"b":77,"x":1,"e":-0.82},
{"b":78,"x":-1,"e":-0.88},{"b":78,"x":-0.8333,"e":-0.84},{"b":78,"x":-0.6667,"e":-0.88},{"b":78,"x":-0.5,"e":-0.92},{"b":78,"x":-0.3333,"e":-0.9},{"b":78,"x":-0.1667,"e":-0.86},{"b":78,"x":0,"e":-0.84},{"b":78,"x":0.1667,"e":-0.86},{"b":78,"x":0.3333,"e":-0.9},{"b":78,"x":0.5,"e":-0.92},{"b":78,"x":0.6667,"e":-0.88},{"b":78,"x":0.8333,"e":-0.84},{"b":78,"x":1,"e":-0.88},
{"b":79,"x":-1,"e":-0.92},{"b":79,"x":-0.8333,"e":-0.96},{"b":79,"x":-0.6667,"e":-0.93},{"b":79,"x":-0.5,"e":-0.88},{"b":79,"x":-0.3333,"e":-0.92},{"b":79,"x":-0.1667,"e":-0.97},{"b":79,"x":0,"e":-0.99},{"b":79,"x":0.1667,"e":-0.97},{"b":79,"x":0.3333,"e":-0.92},{"b":79,"x":0.5,"e":-0.88},{"b":79,"x":0.6667,"e":-0.93},{"b":79,"x":0.8333,"e":-0.96},{"b":79,"x":1,"e":-0.92},
{"b":80,"x":-1,"e":-0.98},{"b":80,"x":-0.8333,"e":-0.94},{"b":80,"x":-0.6667,"e":-0.97},{"b":80,"x":-0.5,"e":-1},{"b":80,"x":-0.3333,"e":-0.98},{"b":80,"x":-0.1667,"e":-0.93},{"b":80,"x":0,"e":-0.91},{"b":80,"x":0.1667,"e":-0.93},{"b":80,"x":0.3333,"e":-0.98},{"b":80,"x":0.5,"e":-1},{"b":80,"x":0.6667,"e":-0.97},{"b":80,"x":0.8333,"e":-0.94},{"b":80,"x":1,"e":-0.98},
{"b":81,"x":-1,"e":-0.62},{"b":81,"x":-0.8333,"e":-0.7},{"b":81,"x":-0.6667,"e":-0.66},{"b":81,"x":-0.5,"e":-0.6},{"b":81,"x":-0.3333,"e":-0.66},{"b":81,"x":-0.1667,"e":-0.72},{"b":81,"x":0,"e":-0.74},{"b":81,"x":0.1667,"e":-0.72},{"b":81,"x":0.3333,"e":-0.66},{"b":81,"x":0.5,"e":-0.6},{"b":81,"x":0.6667,"e":-0.66},{"b":81,"x":0.8333,"e":-0.7},{"b":81,"x":1,"e":-0.62},
{"b":82,"x":-1,"e":-0.68},{"b":82,"x":-0.8333,"e":-0.64},{"b":82,"x":-0.6667,"e":-0.58},{"b":82,"x":-0.5,"e":-0.64},{"b":82,"x":-0.3333,"e":-0.72},{"b":82,"x":-0.1667,"e":-0.69},{"b":82,"x":0,"e":-0.64},{"b":82,"x":0.1667,"e":-0.69},{"b":82,"x":0.3333,"e":-0.72},{"b":82,"x":0.5,"e":-0.64},{"b":82,"x":0.6667,"e":-0.58},{"b":82,"x":0.8333,"e":-0.64},{"b":82,"x":1,"e":-0.68}
],
"kpts": [{"x": -0.6667}, {"x": 0}, {"x": 0.6667}],
"fermi": [{"e": 0}]
},
"layer": [
{
"data": {"name": "bands"},
"mark": {"type": "line", "interpolate": "monotone", "color": "#1a1a1a", "strokeWidth": 5, "clip": true},
"encoding": {
"x": {"field": "x", "type": "quantitative",
"scale": {"domain": [-1, 1], "nice": false, "zero": false},
"axis": {"title": null, "values": [-1, -0.6667, 0, 0.6667, 1], "grid": false, "domain": false, "ticks": false,
"labelExpr": "datum.value < -0.9 ? '−X' : datum.value < -0.5 ? 'K′' : datum.value < 0.5 ? 'Γ' : datum.value < 0.9 ? 'K' : 'X'",
"labelFont": "DejaVu Sans", "labelFontSize": 40, "labelColor": "#1a1a1a", "labelPadding": 12, "labelFlush": false, "labelOverlap": false, "labelBound": false}},
"y": {"field": "e", "type": "quantitative",
"scale": {"domain": [-1, 2], "nice": false, "zero": false},
"axis": {"title": "E−Eꜰ (eV)", "values": [-1, -0.5, 0, 0.5, 1, 1.5, 2], "format": ".1f", "grid": false, "domain": false,
"ticks": true, "tickSize": 10, "tickWidth": 1.6, "tickColor": "#000000",
"labelFont": "DejaVu Sans", "labelFontSize": 40, "labelColor": "#1a1a1a", "labelPadding": 12, "labelFlush": false, "labelOverlap": false, "labelBound": false,
"titleFont": "DejaVu Sans", "titleFontSize": 40, "titleFontWeight": "normal", "titleColor": "#1a1a1a",
"titleAngle": -90, "titleAlign": "center", "titleBaseline": "alphabetic", "titleX": -146, "titleY": 357}},
"detail": {"field": "b", "type": "nominal"}
}
},
{
"data": {"name": "kpts"},
"mark": {"type": "rule", "color": "#000000", "strokeWidth": 1.6, "strokeDash": [2, 3]},
"encoding": {"x": {"field": "x", "type": "quantitative"}}
},
{
"data": {"name": "fermi"},
"mark": {"type": "rule", "color": "#d62728", "strokeWidth": 5, "strokeDash": [18.5, 8]},
"encoding": {"y": {"field": "e", "type": "quantitative"}}
}
]
}
